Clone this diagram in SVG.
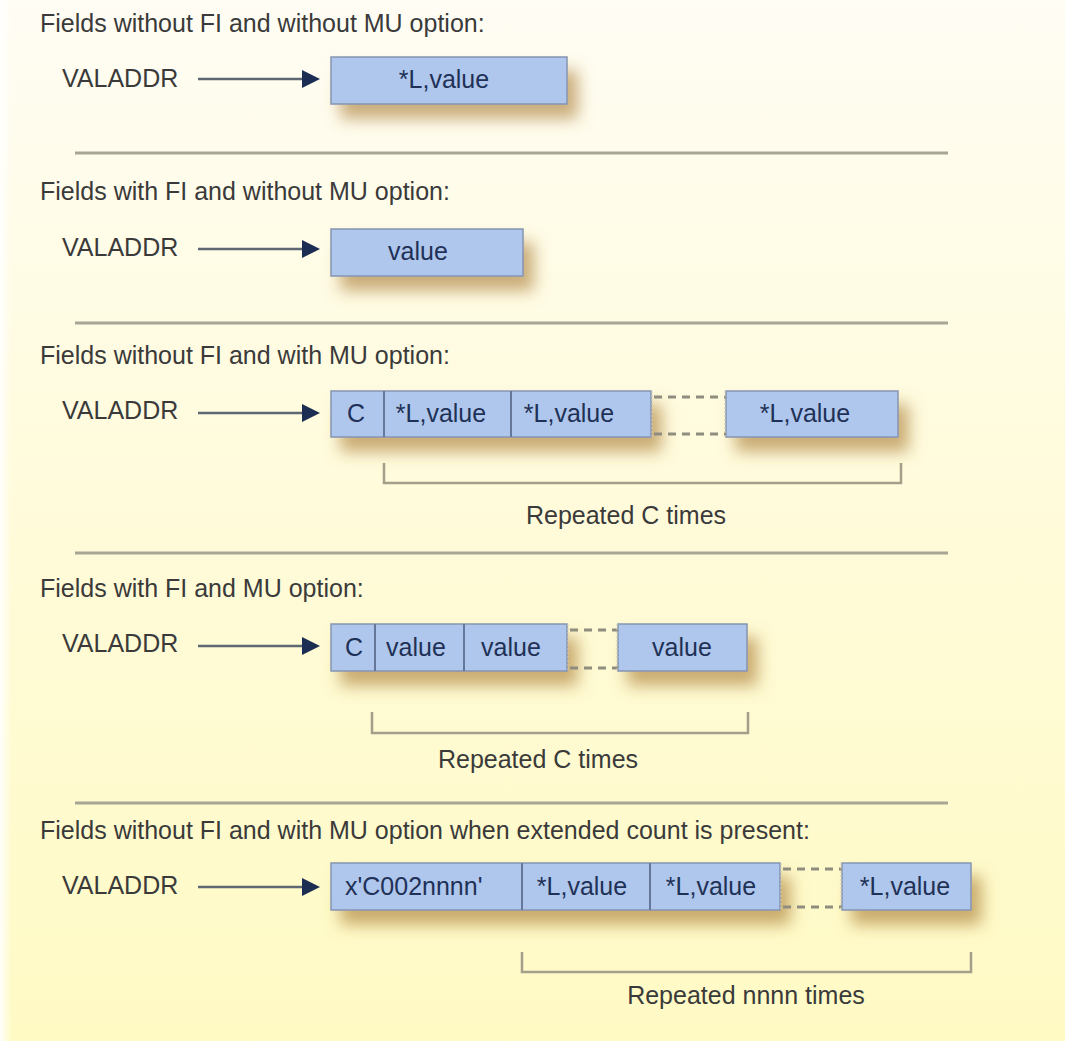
<svg xmlns="http://www.w3.org/2000/svg" width="1065" height="1041" viewBox="0 0 1065 1041">
<defs>
<linearGradient id="bg" x1="0" y1="0" x2="0" y2="1">
<stop offset="0" stop-color="#fffdf4"/>
<stop offset="0.45" stop-color="#fffbdc"/>
<stop offset="1" stop-color="#fffac4"/>
</linearGradient>
<linearGradient id="edge" x1="0" y1="0" x2="1" y2="0">
<stop offset="0" stop-color="#ffffff" stop-opacity="0.9"/>
<stop offset="1" stop-color="#ffffff" stop-opacity="0"/>
</linearGradient>
<filter id="sh" x="-20%" y="-40%" width="150%" height="230%">
<feDropShadow dx="10" dy="14" stdDeviation="8" flood-color="#a6762a" flood-opacity="0.6"/>
</filter>
</defs>
<style>
.t{font-family:"Liberation Sans",Arial,sans-serif;font-size:25px;fill:#3a3a3a}
.bt{font-family:"Liberation Sans",Arial,sans-serif;font-size:25px;fill:#1f3157}
.c{text-anchor:middle}
.cell{fill:#afc7ec;stroke:#8595b0;stroke-width:1.5}
.div{stroke:#66789a;stroke-width:2}
.sep{stroke:#a7a695;stroke-width:3}
.br{fill:none;stroke:#a39f8a;stroke-width:2.5}
.dash{stroke:#8f8d7f;stroke-width:3;stroke-dasharray:8 6}
.vd{stroke:#cdcbb8;stroke-width:1;stroke-dasharray:2 2}
.al{stroke:#5e6873;stroke-width:2.5}
.ah{fill:#1b2d52}
</style>
<rect width="1065" height="1041" fill="url(#bg)"/>
<rect width="12" height="1041" fill="url(#edge)"/>

<g id="separators">
<line class="sep" x1="75" y1="153" x2="948" y2="153"/>
<line class="sep" x1="75" y1="323" x2="948" y2="323"/>
<line class="sep" x1="75" y1="553" x2="948" y2="553"/>
<line class="sep" x1="75" y1="803" x2="948" y2="803"/>
</g>

<g id="connectors">
<line class="al" x1="198" y1="79" x2="304" y2="79"/><polygon class="ah" points="302,70 320,79 302,88"/>
<line class="al" x1="198" y1="249" x2="304" y2="249"/><polygon class="ah" points="302,240 320,249 302,258"/>
<line class="al" x1="198" y1="413" x2="304" y2="413"/><polygon class="ah" points="302,404 320,413 302,422"/>
<line class="al" x1="198" y1="646" x2="304" y2="646"/><polygon class="ah" points="302,637 320,646 302,655"/>
<line class="al" x1="198" y1="887" x2="304" y2="887"/><polygon class="ah" points="302,878 320,887 302,896"/>
</g>

<!-- Section 1 -->
<g id="s1-title"><text class="t" x="40" y="32">Fields without FI and without MU option:</text></g>
<g id="s1-valaddr"><text class="t" x="62" y="87">VALADDR</text></g>
<g id="s1-box">
<rect class="cell" x="331" y="57" width="236" height="47" filter="url(#sh)"/>
<text class="bt c" x="444" y="88">*L,value</text>
</g>

<!-- Section 2 -->
<g id="s2-title"><text class="t" x="40" y="200">Fields with FI and without MU option:</text></g>
<g id="s2-valaddr"><text class="t" x="62" y="256">VALADDR</text></g>
<g id="s2-box">
<rect class="cell" x="331" y="229" width="192" height="47" filter="url(#sh)"/>
<text class="bt c" x="418" y="260">value</text>
</g>

<!-- Section 3 -->
<g id="s3-title"><text class="t" x="40" y="364">Fields without FI and with MU option:</text></g>
<g id="s3-valaddr"><text class="t" x="62" y="419">VALADDR</text></g>
<g id="s3-boxes">
<g filter="url(#sh)">
<rect class="cell" x="331" y="391" width="320" height="46"/>
<rect class="cell" x="726" y="391" width="172" height="46"/>
</g>
<line class="div" x1="384" y1="391" x2="384" y2="437"/>
<line class="div" x1="511" y1="391" x2="511" y2="437"/>
<line class="dash" x1="654" y1="397" x2="726" y2="397"/>
<line class="dash" x1="654" y1="434" x2="726" y2="434"/>
<line class="vd" x1="652" y1="391" x2="652" y2="437"/>
<line class="vd" x1="725" y1="391" x2="725" y2="437"/>
<text class="bt c" x="356" y="422">C</text>
<text class="bt c" x="441" y="422">*L,value</text>
<text class="bt c" x="569" y="422">*L,value</text>
<text class="bt c" x="805" y="422">*L,value</text>
</g>
<g id="s3-bracket">
<polyline class="br" points="384,463 384,483 901,483 901,463"/>
<text class="t c" x="626" y="524">Repeated C times</text>
</g>

<!-- Section 4 -->
<g id="s4-title"><text class="t" x="40" y="597">Fields with FI and MU option:</text></g>
<g id="s4-valaddr"><text class="t" x="62" y="652">VALADDR</text></g>
<g id="s4-boxes">
<g filter="url(#sh)">
<rect class="cell" x="331" y="624" width="236" height="47"/>
<rect class="cell" x="618" y="624" width="129" height="47"/>
</g>
<line class="div" x1="375" y1="624" x2="375" y2="671"/>
<line class="div" x1="464" y1="624" x2="464" y2="671"/>
<line class="dash" x1="570" y1="630" x2="618" y2="630"/>
<line class="dash" x1="570" y1="668" x2="618" y2="668"/>
<line class="vd" x1="568" y1="624" x2="568" y2="671"/>
<line class="vd" x1="617" y1="624" x2="617" y2="671"/>
<text class="bt c" x="354" y="656">C</text>
<text class="bt c" x="416" y="656">value</text>
<text class="bt c" x="511" y="656">value</text>
<text class="bt c" x="682" y="656">value</text>
</g>
<g id="s4-bracket">
<polyline class="br" points="372,712 372,733 748,733 748,712"/>
<text class="t c" x="538" y="768">Repeated C times</text>
</g>

<!-- Section 5 -->
<g id="s5-title"><text class="t" x="40" y="839">Fields without FI and with MU option when extended count is present:</text></g>
<g id="s5-valaddr"><text class="t" x="62" y="894">VALADDR</text></g>
<g id="s5-boxes">
<g filter="url(#sh)">
<rect class="cell" x="331" y="863" width="449" height="47"/>
<rect class="cell" x="842" y="863" width="129" height="47"/>
</g>
<line class="div" x1="522" y1="863" x2="522" y2="910"/>
<line class="div" x1="650" y1="863" x2="650" y2="910"/>
<line class="dash" x1="783" y1="869" x2="842" y2="869"/>
<line class="dash" x1="783" y1="907" x2="842" y2="907"/>
<line class="vd" x1="781" y1="863" x2="781" y2="910"/>
<line class="vd" x1="841" y1="863" x2="841" y2="910"/>
<text class="bt" x="345" y="895">x'C002nnnn'</text>
<text class="bt c" x="582" y="895">*L,value</text>
<text class="bt c" x="711" y="895">*L,value</text>
<text class="bt c" x="905" y="895">*L,value</text>
</g>
<g id="s5-bracket">
<polyline class="br" points="522,952 522,972 971,972 971,952"/>
<text class="t c" x="746" y="1004">Repeated nnnn times</text>
</g>
</svg>
